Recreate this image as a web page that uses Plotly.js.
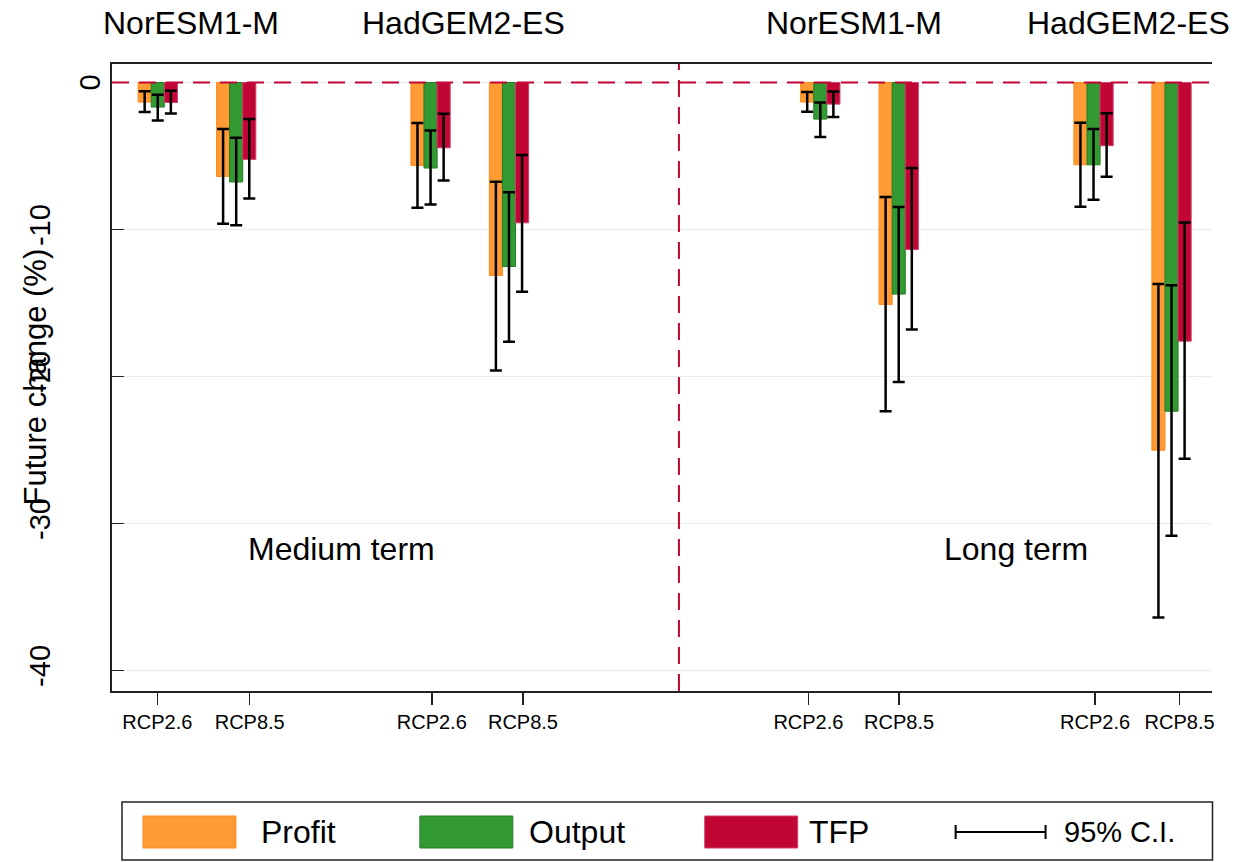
<!DOCTYPE html>
<html><head><meta charset="utf-8">
<script src="https://cdn.plot.ly/plotly-3.0.1.min.js"></script>
<style>html,body{margin:0;padding:0;background:#fff}#chart{width:1238px;height:862px}</style>
</head><body><div id="chart"></div>
<script>
// ---- data ----
const groupPos   = [4.16, 11.29, 28.96, 36.09, 64.39, 71.52, 89.23, 96.32];
const tickPos    = [4.12, 12.52, 29.07, 37.36, 63.31, 71.55, 89.37, 97.05];
const tickLabels = ['RCP2.6','RCP8.5','RCP2.6','RCP8.5','RCP2.6','RCP8.5','RCP2.6','RCP8.5'];
const modelLabels = ['NorESM1-M','HadGEM2-ES','NorESM1-M','HadGEM2-ES'];
const modelPos    = [7.2, 31.96, 67.43, 92.37];
const termLabels  = ['Medium term','Long term'];
const termPos     = [20.83, 82.15];
const termY       = -31.76;
const dividerX    = 51.54;
const yTicks      = [0, -10, -20, -30, -40];
const yTickText   = ['0', '-10', '-20', '-30', '-40'];

const seriesNames  = ['Profit','Output','TFP'];
const seriesColors = ['#FF9A35','#339933','#C10534'];
const seriesLines  = ['#FF8A1A','#227F22','#D0406A'];

const profit   = [-1.33, -6.39, -5.64, -13.13, -1.33, -15.10, -5.60, -25.02];
const profitHi = [-0.60, -3.17, -2.76,  -6.75, -0.65,  -7.79, -2.73, -13.72];
const profitLo = [-2.00, -9.62, -8.53, -19.60, -1.99, -22.37, -8.45, -36.40];

const output   = [-1.67, -6.77, -5.82, -12.52, -2.49, -14.40, -5.60, -22.37];
const outputHi = [-0.84, -3.76, -3.26,  -7.47, -1.36,  -8.47, -3.16, -13.80];
const outputLo = [-2.58, -9.71, -8.31, -17.64, -3.71, -20.38, -7.98, -30.85];

const tfp      = [-1.36, -5.23, -4.44,  -9.55, -1.47, -11.37, -4.30, -17.60];
const tfpHi    = [-0.56, -2.49, -2.13,  -4.93, -0.61,  -5.82, -2.10,  -9.52];
const tfpLo    = [-2.11, -7.90, -6.66, -14.24, -2.35, -16.80, -6.42, -25.60];

const ciLabel = '95% C.I.';
const yTitle = 'Future change (%)';

// ---- build ----
const means = [profit, output, tfp];
const his = [profitHi, outputHi, tfpHi];
const los = [profitLo, outputLo, tfpLo];
const BW = 1.19;
const FONT = 'Arial, "Liberation Sans", Helvetica, sans-serif';
const BIG = 32;

const traces = means.map((m, i) => ({
  type: 'bar',
  name: seriesNames[i],
  x: groupPos,
  y: m,
  width: BW,
  offset: -1.5 * BW + i * BW,
  marker: {color: seriesColors[i], line: {color: seriesLines[i], width: 1}},
  error_y: {
    type: 'data', symmetric: false,
    array: m.map((v, k) => his[i][k] - v),
    arrayminus: m.map((v, k) => v - los[i][k]),
    color: '#000', thickness: 2.5, width: 6
  },
  showlegend: false,
  hoverinfo: 'skip'
}));

// plot area in pixels (for layout-only elements such as the legend box)
const L = 112, R = 1212.5, T = 64, B = 691;
const px = x => (x - L) / (R - L);
const py = y => (B - y) / (B - T);

const shapes = [
  {type: 'line', xref: 'paper', yref: 'y', x0: 0, x1: 1, y0: 0, y1: 0, layer: 'above',
   line: {color: '#C10534', width: 2, dash: '17px,10px'}},
  {type: 'line', xref: 'x', yref: 'paper', x0: dividerX, x1: dividerX, y0: 0, y1: 1, layer: 'above',
   line: {color: '#C10534', width: 2, dash: '17px,10px'}},
  // legend frame
  {type: 'rect', xref: 'paper', yref: 'paper', x0: px(122), x1: px(1213), y0: py(802), y1: py(860),
   line: {color: '#222', width: 1.5}, fillcolor: 'rgba(0,0,0,0)'}
];
const annotations = [];

// legend swatches + labels
const swX = [143, 420, 705];
const txX = [259, 527, 807];
seriesNames.forEach((n, i) => {
  shapes.push({type: 'rect', xref: 'paper', yref: 'paper',
    x0: px(swX[i]), x1: px(swX[i] + 93), y0: py(848), y1: py(816),
    fillcolor: seriesColors[i], line: {color: seriesLines[i], width: 1}});
  annotations.push({xref: 'paper', yref: 'paper', x: px(txX[i]), y: py(832), xanchor: 'left', yanchor: 'middle',
    text: n, showarrow: false, font: {family: FONT, size: BIG, color: '#000'}});
});
// CI legend symbol
shapes.push({type: 'line', xref: 'paper', yref: 'paper', x0: px(956), x1: px(1046), y0: py(832), y1: py(832), line: {color: '#000', width: 2}});
shapes.push({type: 'line', xref: 'paper', yref: 'paper', x0: px(956), x1: px(956), y0: py(825), y1: py(839), line: {color: '#000', width: 2}});
shapes.push({type: 'line', xref: 'paper', yref: 'paper', x0: px(1046), x1: px(1046), y0: py(825), y1: py(839), line: {color: '#000', width: 2}});
annotations.push({xref: 'paper', yref: 'paper', x: px(1062), y: py(832), xanchor: 'left', yanchor: 'middle',
  text: ciLabel, showarrow: false, font: {family: FONT, size: 29, color: '#000'}});

// model labels above
modelLabels.forEach((t, i) => annotations.push({xref: 'x', yref: 'paper', x: modelPos[i], y: py(23),
  xanchor: 'center', yanchor: 'middle', text: t, showarrow: false, font: {family: FONT, size: BIG, color: '#000'}}));
// term labels
termLabels.forEach((t, i) => annotations.push({xref: 'x', yref: 'y', x: termPos[i], y: termY,
  xanchor: 'center', yanchor: 'middle', text: t, showarrow: false, font: {family: FONT, size: BIG, color: '#000'}}));
// y title
annotations.push({xref: 'paper', yref: 'paper', x: px(35), y: 0.5, xanchor: 'center', yanchor: 'middle',
  textangle: -90, text: yTitle, showarrow: false, font: {family: FONT, size: 31, color: '#000'}});
// the top y tick label sits closer to the axis in the reference
annotations.push({xref: 'paper', yref: 'y', x: px(90), y: yTicks[0], xanchor: 'center', yanchor: 'middle',
  textangle: -90, text: yTickText[0], showarrow: false, font: {family: FONT, size: 29, color: '#000'}});

const layout = {
  width: 1238, height: 862,
  margin: {l: L, r: 1238 - R, t: T, b: 862 - B},
  paper_bgcolor: '#fff', plot_bgcolor: '#fff',
  barmode: 'overlay',
  showlegend: false,
  font: {family: FONT, color: '#000'},
  xaxis: {
    range: [0, 100], showgrid: false, zeroline: false,
    showline: true, mirror: true, linecolor: '#222', linewidth: 2,
    tickmode: 'array', tickvals: tickPos, ticktext: tickLabels,
    ticks: 'outside', ticklen: 12, tickwidth: 1.5, tickcolor: '#222',
    tickfont: {family: FONT, size: 20, color: '#000'}
  },
  yaxis: {
    range: [-41.41, 1.26], zeroline: false,
    showgrid: true, gridcolor: '#E4EDF1', gridwidth: 1.5,
    showline: true, linecolor: '#222', linewidth: 2,
    tickmode: 'array', tickvals: yTicks, ticktext: yTickText.map((t, k) => k === 0 ? ' ' : t),
    ticks: 'inside', ticklen: 12, tickwidth: 1.5, tickcolor: '#222',
    tickangle: -90, ticklabelstandoff: 48,
    tickfont: {family: FONT, size: 29, color: '#000'}
  },
  shapes: shapes,
  annotations: annotations
};

Plotly.newPlot('chart', traces, layout, {displayModeBar: false, staticPlot: true});
</script>
</body></html>
